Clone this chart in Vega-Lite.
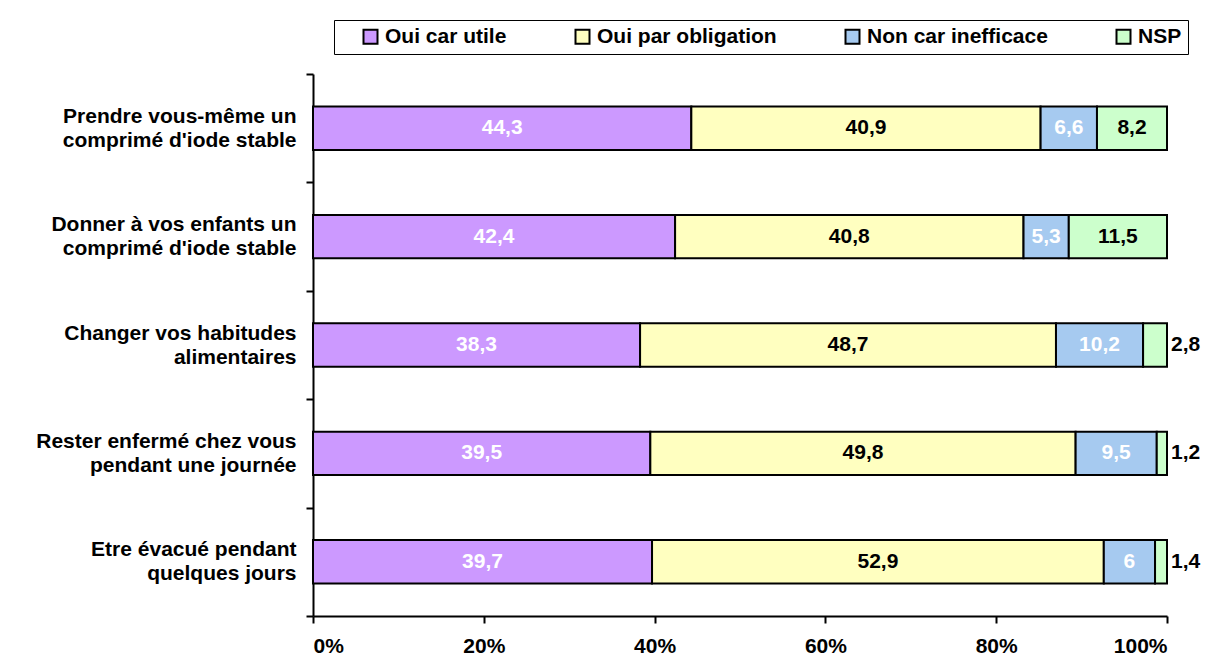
{
  "$schema": "https://vega.github.io/schema/vega-lite/v6.json",
  "width": 854,
  "height": 542,
  "autosize": "none",
  "padding": {"left": 313, "top": 74, "right": 43, "bottom": 52},
  "background": "white",
  "data": {
    "values": [
      {"q": "Prendre vous-même un\ncomprimé d'iode stable", "s": "Oui car utile", "o": 1, "v": 44.3},
      {"q": "Prendre vous-même un\ncomprimé d'iode stable", "s": "Oui par obligation", "o": 2, "v": 40.9},
      {"q": "Prendre vous-même un\ncomprimé d'iode stable", "s": "Non car inefficace", "o": 3, "v": 6.6},
      {"q": "Prendre vous-même un\ncomprimé d'iode stable", "s": "NSP", "o": 4, "v": 8.2},
      {"q": "Donner à vos enfants un\ncomprimé d'iode stable", "s": "Oui car utile", "o": 1, "v": 42.4},
      {"q": "Donner à vos enfants un\ncomprimé d'iode stable", "s": "Oui par obligation", "o": 2, "v": 40.8},
      {"q": "Donner à vos enfants un\ncomprimé d'iode stable", "s": "Non car inefficace", "o": 3, "v": 5.3},
      {"q": "Donner à vos enfants un\ncomprimé d'iode stable", "s": "NSP", "o": 4, "v": 11.5},
      {"q": "Changer vos habitudes\nalimentaires", "s": "Oui car utile", "o": 1, "v": 38.3},
      {"q": "Changer vos habitudes\nalimentaires", "s": "Oui par obligation", "o": 2, "v": 48.7},
      {"q": "Changer vos habitudes\nalimentaires", "s": "Non car inefficace", "o": 3, "v": 10.2},
      {"q": "Changer vos habitudes\nalimentaires", "s": "NSP", "o": 4, "v": 2.8},
      {"q": "Rester enfermé chez vous\npendant une journée", "s": "Oui car utile", "o": 1, "v": 39.5},
      {"q": "Rester enfermé chez vous\npendant une journée", "s": "Oui par obligation", "o": 2, "v": 49.8},
      {"q": "Rester enfermé chez vous\npendant une journée", "s": "Non car inefficace", "o": 3, "v": 9.5},
      {"q": "Rester enfermé chez vous\npendant une journée", "s": "NSP", "o": 4, "v": 1.2},
      {"q": "Etre évacué pendant\nquelques jours", "s": "Oui car utile", "o": 1, "v": 39.7},
      {"q": "Etre évacué pendant\nquelques jours", "s": "Oui par obligation", "o": 2, "v": 52.9},
      {"q": "Etre évacué pendant\nquelques jours", "s": "Non car inefficace", "o": 3, "v": 6},
      {"q": "Etre évacué pendant\nquelques jours", "s": "NSP", "o": 4, "v": 1.4}
    ]
  },
  "transform": [
    {"stack": "v", "groupby": ["q"], "sort": [{"field": "o"}], "as": ["v0", "v1"]},
    {"calculate": "(datum.v0 + datum.v1) / 2", "as": "mid"},
    {"calculate": "replace(toString(datum.v), '.', ',')", "as": "lbl"}
  ],
  "encoding": {
    "y": {
      "field": "q",
      "type": "nominal",
      "sort": null,
      "scale": {"paddingInner": 0, "paddingOuter": 0},
      "axis": {
        "title": null,
        "labelExpr": "split(datum.label, '\\n')",
        "labelFont": "Liberation Sans",
        "labelFontWeight": "bold",
        "labelFontSize": 21,
        "labelColor": "black",
        "labelLineHeight": 24,
        "labelOffset": -12,
        "labelLimit": 400,
        "labelPadding": 10,
        "tickBand": "extent",
        "tickSize": 7,
        "tickWidth": 2,
        "tickColor": "black",
        "domainColor": "black",
        "domainWidth": 2
      }
    }
  },
  "layer": [
    {
      "mark": {"type": "bar", "stroke": "black", "strokeWidth": 2, "height": {"band": 0.4}},
      "encoding": {
        "x": {
          "field": "v0",
          "type": "quantitative",
          "scale": {"domain": [0, 100], "nice": false},
          "axis": {
            "title": null,
            "grid": false,
            "values": [0, 20, 40, 60, 80, 100],
            "labelExpr": "datum.value + '%'",
            "labelFont": "Liberation Sans",
            "labelFontWeight": "bold",
            "labelFontSize": 21,
            "labelColor": "black",
            "labelPadding": 12,
            "tickSize": 7,
            "tickWidth": 2,
            "tickColor": "black",
            "domainColor": "black",
            "domainWidth": 2
          }
        },
        "x2": {"field": "v1"},
        "color": {
          "field": "s",
          "type": "nominal",
          "scale": {
            "domain": ["Oui car utile", "Oui par obligation", "Non car inefficace", "NSP"],
            "range": ["#CC99FF", "#FFFFC0", "#A6CAF0", "#CCFFCC"]
          },
          "legend": {
            "orient": "none",
            "legendX": 21,
            "legendY": -54,
            "direction": "horizontal",
            "title": " ",
            "titleOrient": "left",
            "titlePadding": 20,
            "titleFontSize": 10,
            "strokeColor": "black",
            "padding": 6,
            "columnPadding": 64,
            "symbolType": "square",
            "symbolSize": 196,
            "symbolStrokeColor": "black",
            "symbolStrokeWidth": 2,
            "symbolOpacity": 1,
            "labelFont": "Liberation Sans",
            "labelFontWeight": "bold",
            "labelFontSize": 21,
            "labelColor": "black",
            "labelOffset": 4,
            "labelLimit": 400
          }
        }
      }
    },
    {
      "transform": [{"filter": "datum.v >= 5"}],
      "mark": {"type": "text", "font": "Liberation Sans", "fontWeight": "bold", "fontSize": 21, "align": "center", "baseline": "middle"},
      "encoding": {
        "x": {"field": "mid", "type": "quantitative"},
        "text": {"field": "lbl"},
        "color": {
          "condition": {"test": "datum.s == 'Oui car utile' || datum.s == 'Non car inefficace'", "value": "white"},
          "value": "black"
        }
      }
    },
    {
      "transform": [{"filter": "datum.v < 5"}],
      "mark": {"type": "text", "font": "Liberation Sans", "fontWeight": "bold", "fontSize": 21, "align": "left", "baseline": "middle", "dx": 4, "color": "black"},
      "encoding": {
        "x": {"field": "v1", "type": "quantitative"},
        "text": {"field": "lbl"}
      }
    }
  ],
  "config": {
    "view": {"stroke": null},
    "font": "Liberation Sans"
  }
}
